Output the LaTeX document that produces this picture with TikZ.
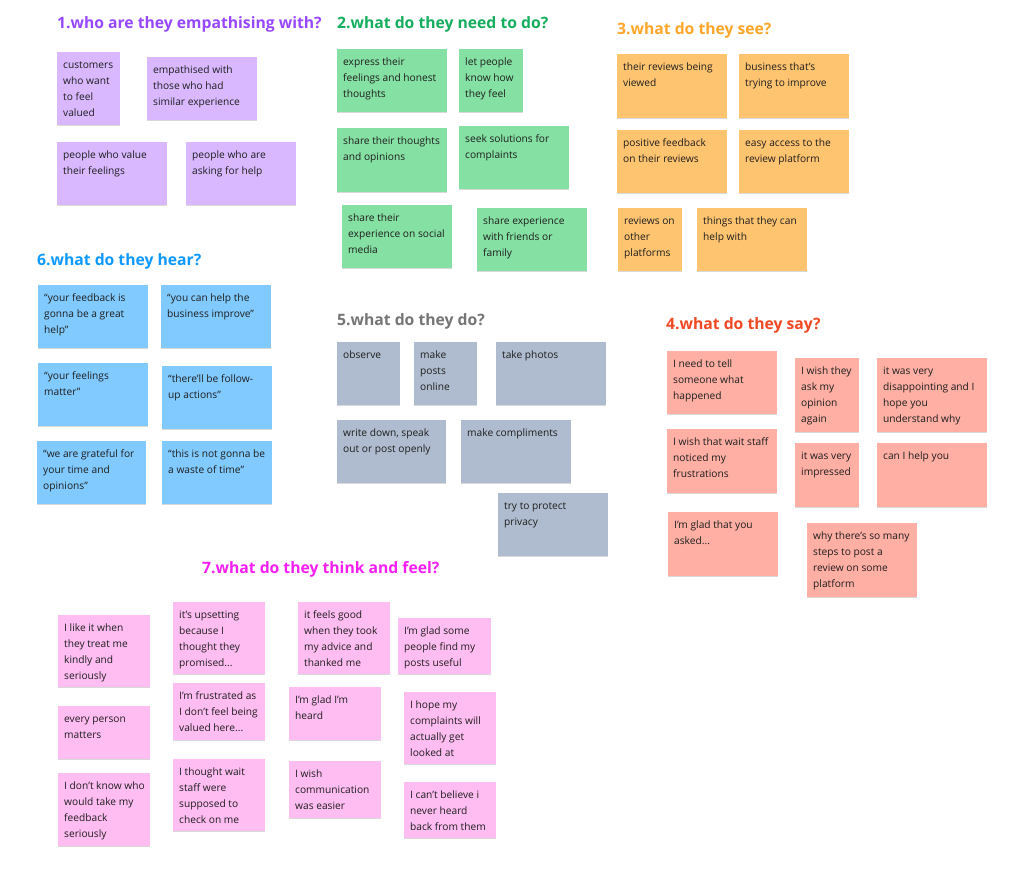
\documentclass[tikz,border=0pt]{standalone}
\usepackage{fontspec}
\setmainfont{Open Sans}
\usetikzlibrary{shadows}
\definecolor{cviolet}{HTML}{D9B8FF}
\definecolor{cgreen}{HTML}{85E0A3}
\definecolor{corange}{HTML}{FFC470}
\definecolor{cblue}{HTML}{80CAFF}
\definecolor{cslate}{HTML}{AFBCCF}
\definecolor{cred}{HTML}{FFAFA3}
\definecolor{cpink}{HTML}{FFBDF2}
\definecolor{tviolet}{HTML}{9747FF}
\definecolor{tgreen}{HTML}{14AE5C}
\definecolor{torange}{HTML}{FFA629}
\definecolor{tblue}{HTML}{0D99FF}
\definecolor{tgray}{HTML}{757575}
\definecolor{tred}{HTML}{F24822}
\definecolor{tmagenta}{HTML}{F61EF2}
\definecolor{notetxt}{HTML}{1E1E1E}
\tikzset{
  notebox/.style={anchor=north west, inner sep=0pt, outer sep=0pt, draw=none,
    drop shadow={shadow xshift=0pt, shadow yshift=-1pt, opacity=0.15, fill=black}},
  notetext/.style={anchor=base west, inner sep=0pt, text=notetxt,
    font=\fontsize{10.2}{16}\selectfont},
  title/.style={anchor=base west, inner sep=0pt, font=\fontsize{15.7}{20}\selectfont\bfseries}
}
\newcommand\sticky[7]{%
  \node[notebox, fill=#6, minimum width=#4pt, minimum height=#5pt] (#1) at (#2,#3) {};
  \node[notetext] (#1t) at ([xshift=6pt,yshift=-16pt]#1.north west)
    {\begin{tabular}[t]{@{}l@{}}#7\end{tabular}};
}
\begin{document}
\begin{tikzpicture}[x=1pt,y=-1pt]
\useasboundingbox (0,0) rectangle (1024,884);
\fill[white] (0,0) rectangle (1024,884);

% titles
\node[title, text=tviolet] (t1) at (57,28) {1.who are they empathising with?};
\node[title, text=tgreen] (t2) at (337,28) {2.what do they need to do?};
\node[title, text=torange] (t3) at (617,34) {3.what do they see?};
\node[title, text=tblue] (t6) at (37,265) {6.what do they hear?};
\node[title, text=tgray] (t5) at (337,325) {5.what do they do?};
\node[title, text=tred] (t4) at (666,329) {4.what do they say?};
\node[title, text=tmagenta] (t7) at (202,573) {7.what do they think and feel?};

% group 1
\sticky{n1a}{57}{52}{63}{73}{cviolet}{customers\\who want\\to feel\\valued}
\sticky{n1b}{147}{57}{110}{63}{cviolet}{empathised with\\those who had\\similar experience}
\sticky{n1c}{57}{142}{110}{63}{cviolet}{people who value\\their feelings}
\sticky{n1d}{186}{142}{110}{63}{cviolet}{people who are\\asking for help}

% group 2
\sticky{n2a}{337}{49}{110}{63}{cgreen}{express their\\feelings and honest\\thoughts}
\sticky{n2b}{459}{49}{64}{63}{cgreen}{let people\\know how\\they feel}
\sticky{n2c}{337}{128}{110}{64}{cgreen}{share their thoughts\\and opinions}
\sticky{n2d}{459}{126}{110}{63}{cgreen}{seek solutions for\\complaints}
\sticky{n2e}{342}{205}{110}{63}{cgreen}{share their\\experience on social\\media}
\sticky{n2f}{477}{208}{110}{63}{cgreen}{share experience\\with friends or\\family}

% group 3
\sticky{n3a}{617}{54}{110}{64}{corange}{their reviews being\\viewed}
\sticky{n3b}{739}{54}{110}{64}{corange}{business that’s\\trying to improve}
\sticky{n3c}{617}{130}{110}{63}{corange}{positive feedback\\on their reviews}
\sticky{n3d}{739}{130}{110}{63}{corange}{easy access to the\\review platform}
\sticky{n3e}{618}{208}{64}{63}{corange}{reviews on\\other\\platforms}
\sticky{n3f}{697}{208}{110}{63}{corange}{things that they can\\help with}

% group 6
\sticky{n6a}{38}{285}{110}{63}{cblue}{“your feedback is\\gonna be a great\\help”}
\sticky{n6b}{161}{285}{110}{63}{cblue}{“you can help the\\business improve”}
\sticky{n6c}{38}{363}{110}{63}{cblue}{“your feelings\\matter”}
\sticky{n6d}{162}{366}{110}{63}{cblue}{“there’ll be follow-\\up actions”}
\sticky{n6e}{37}{441}{109}{63}{cblue}{“we are grateful for\\your time and\\opinions”}
\sticky{n6f}{162}{441}{110}{63}{cblue}{“this is not gonna be\\a waste of time”}

% group 5
\sticky{n5a}{337}{342}{63}{63}{cslate}{observe}
\sticky{n5b}{414}{342}{63}{63}{cslate}{make\\posts\\online}
\sticky{n5c}{496}{342}{110}{63}{cslate}{take photos}
\sticky{n5d}{337}{420}{109}{63}{cslate}{write down, speak\\out or post openly}
\sticky{n5e}{461}{420}{110}{63}{cslate}{make compliments}
\sticky{n5f}{498}{493}{110}{63}{cslate}{try to protect\\privacy}

% group 4
\sticky{n4a}{667}{351}{110}{63}{cred}{I need to tell\\someone what\\happened}
\sticky{n4b}{795}{358}{64}{74}{cred}{I wish they\\ask my\\opinion\\again}
\sticky{n4c}{877}{358}{110}{74}{cred}{it was very\\disappointing and I\\hope you\\understand why}
\sticky{n4d}{667}{429}{110}{64}{cred}{I wish that wait staff\\noticed my\\frustrations}
\sticky{n4e}{795}{443}{64}{64}{cred}{it was very\\impressed}
\sticky{n4f}{877}{443}{110}{64}{cred}{can I help you}
\sticky{n4g}{668}{512}{110}{64}{cred}{I’m glad that you\\asked...}
\sticky{n4h}{807}{523}{110}{74}{cred}{why there’s so many\\steps to post a\\review on some\\platform}

% group 7
\sticky{n7a}{58}{615}{92}{72}{cpink}{I like it when\\they treat me\\kindly and\\seriously}
\sticky{n7b}{58}{706}{92}{53}{cpink}{every person\\matters}
\sticky{n7c}{58}{773}{92}{73}{cpink}{I don’t know who\\would take my\\feedback\\seriously}
\sticky{n7d}{173}{602}{92}{72}{cpink}{it’s upsetting\\because I\\thought they\\promised...}
\sticky{n7e}{173}{683}{92}{57}{cpink}{I’m frustrated as\\I don’t feel being\\valued here...}
\sticky{n7f}{173}{759}{92}{72}{cpink}{I thought wait\\staff were\\supposed to\\check on me}
\sticky{n7g}{298}{602}{92}{72}{cpink}{it feels good\\when they took\\my advice and\\thanked me}
\sticky{n7h}{398}{618}{93}{56}{cpink}{I’m glad some\\people find my\\posts useful}
\sticky{n7i}{289}{687}{92}{53}{cpink}{I’m glad I’m\\heard}
\sticky{n7j}{404}{692}{92}{72}{cpink}{I hope my\\complaints will\\actually get\\looked at}
\sticky{n7k}{289}{761}{92}{57}{cpink}{I wish\\communication\\was easier}
\sticky{n7l}{404}{782}{92}{56}{cpink}{I can’t believe i\\never heard\\back from them}
\end{tikzpicture}
\end{document}
